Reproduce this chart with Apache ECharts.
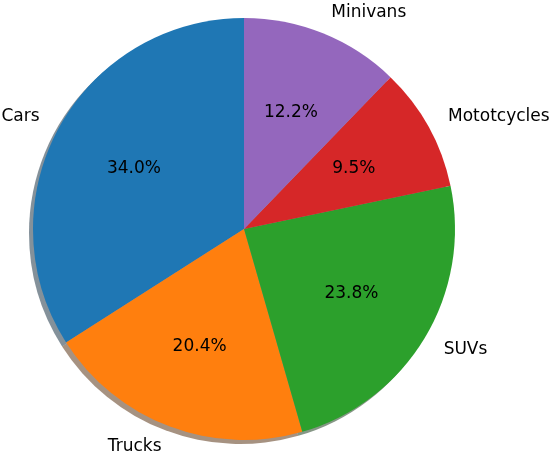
<!DOCTYPE html>
<html>
<head>
<meta charset="utf-8">
<script src="https://cdn.jsdelivr.net/npm/echarts@6/dist/echarts.min.js"></script>
<style>
  html, body { margin: 0; padding: 0; background: #fff; }
  #chart { width: 557px; height: 463px; }
</style>
</head>
<body>
<div id="chart"></div>
<script>
// data
const categories = ['Cars', 'Trucks', 'SUVs', 'Mototcycles', 'Minivans'];
const shares = [34.0, 20.4, 23.8, 9.5, 12.2];
const colors = ['#1f77b4', '#ff7f0e', '#2ca02c', '#d62728', '#9467bd'];

const cx = 244, cy = 229, r = 211;
const font = 'DejaVu Sans';

// matplotlib style shadow: 0.3 * face colour at half alpha
function shadowColor(hex) {
  const n = parseInt(hex.slice(1), 16);
  const rr = Math.round(((n >> 16) & 255) * 0.3);
  const gg = Math.round(((n >> 8) & 255) * 0.3);
  const bb = Math.round((n & 255) * 0.3);
  return 'rgba(' + rr + ',' + gg + ',' + bb + ',0.5)';
}

const common = {
  type: 'pie',
  startAngle: 90,
  clockwise: false,
  avoidLabelOverlap: false,
  silent: true,
  animation: false,
  emphasis: { disabled: true }
};

const chart = echarts.init(document.getElementById('chart'));
chart.setOption({
  animation: false,
  series: [
    // shadow
    Object.assign({}, common, {
      center: [cx - 4, cy + 4],
      radius: [0, r],
      label: { show: false },
      labelLine: { show: false },
      data: categories.map((c, i) => ({
        name: c, value: shares[i],
        itemStyle: { color: shadowColor(colors[i]), borderWidth: 0 }
      }))
    }),
    // wedges with outer names
    Object.assign({}, common, {
      center: [cx, cy],
      radius: [0, r],
      label: {
        show: true,
        position: 'outside',
        formatter: '{b}',
        color: '#000',
        fontFamily: font,
        fontSize: 17,
        distanceToLabelLine: 0
      },
      labelLine: { show: false, length: r * 0.1 + 1, length2: 0 },
      data: categories.map((c, i) => ({
        name: c, value: shares[i],
        itemStyle: { color: colors[i], borderWidth: 0 }
      }))
    }),
    // transparent ring so the percent labels sit near 0.6 r
    Object.assign({}, common, {
      center: [cx, cy],
      radius: [0, 245],
      label: {
        show: true,
        position: 'inside',
        formatter: p => p.value.toFixed(1) + '%',
        color: '#000',
        fontFamily: font,
        fontSize: 17
      },
      labelLine: { show: false },
      data: categories.map((c, i) => ({
        name: c, value: shares[i],
        itemStyle: { color: 'rgba(0,0,0,0)', borderWidth: 0 }
      }))
    })
  ]
});
</script>
</body>
</html>
